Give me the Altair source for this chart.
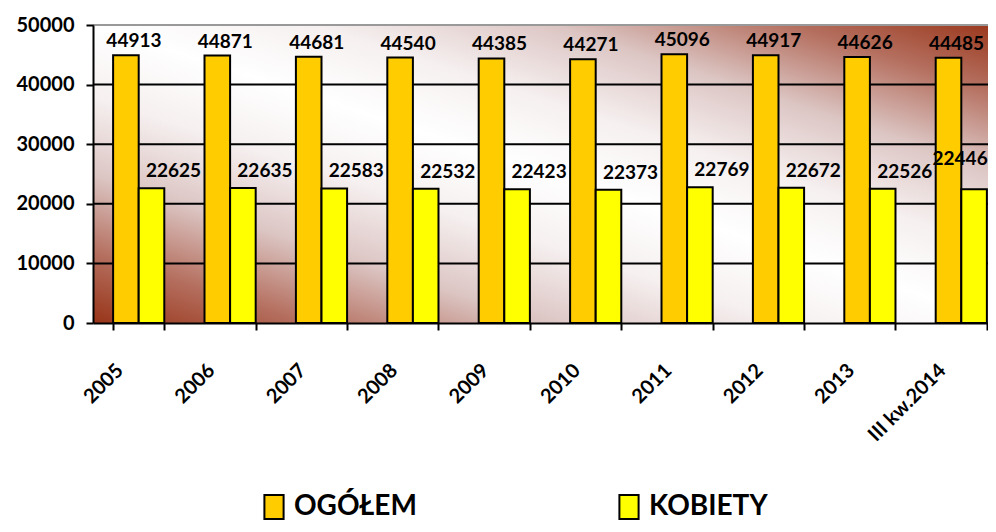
import altair as alt
import pandas as pd

categories = ["2005", "2006", "2007", "2008", "2009", "2010", "2011", "2012", "2013", "III kw.2014"]
ogolem = [44913, 44871, 44681, 44540, 44385, 44271, 45096, 44917, 44626, 44485]
kobiety = [22625, 22635, 22583, 22532, 22423, 22373, 22769, 22672, 22526, 22446]
series_names = ["OGÓŁEM", "KOBIETY"]
series_colors = ["#FFCC00", "#FFFF00"]
y_ticks = [0, 10000, 20000, 30000, 40000, 50000]

rows = []
for c, o, k in zip(categories, ogolem, kobiety):
    rows.append({"cat": c, "series": series_names[0], "value": o})
    rows.append({"cat": c, "series": series_names[1], "value": k})
df = pd.DataFrame(rows)
grid_df = pd.DataFrame({"value": y_ticks[1:]})

W, H = 895, 298
FULL_W = 914
FONT = "Lato"
LAST = categories[-1]

xscale = alt.Scale(domain=categories, range=[0, FULL_W], paddingInner=0.44, paddingOuter=0.22)
yscale = alt.Scale(domain=[0, 50000], nice=False)

x_enc = alt.X(
    "cat:N", scale=xscale, sort=categories,
    axis=alt.Axis(title=None, labelAngle=-45, labelAlign="right", labelBaseline="middle",
                  labelFont=FONT, labelFontSize=20, labelFontWeight="bold", labelColor="black",
                  domainColor="black", domainWidth=2, tickColor="black", tickWidth=2,
                  tickSize=7, tickBand="extent", labelPadding=37, labelOffset=-19,
                  grid=False, zindex=1),
)
y_enc = alt.Y(
    "value:Q", scale=yscale,
    axis=alt.Axis(values=y_ticks, format="d", title=None, labelFont=FONT, labelFontSize=20,
                  labelFontWeight="bold", labelColor="black", domainColor="black",
                  domainWidth=2, tickColor="black", tickWidth=2, tickSize=7,
                  labelPadding=12, grid=False, zindex=1),
)
xoff = alt.XOffset("series:N", sort=series_names, scale=alt.Scale(domain=series_names, paddingInner=0))

dark = "#983418"
gradient = {
    "gradient": "linear", "x1": 0, "y1": 1, "x2": 1, "y2": 0,
    "stops": [
        {"offset": 0.0, "color": dark},
        {"offset": 0.12, "color": "#b57060"},
        {"offset": 0.25, "color": "#dcc6c4"},
        {"offset": 0.38, "color": "#f6f0f0"},
        {"offset": 0.5, "color": "#ffffff"},
        {"offset": 0.62, "color": "#f6f0f0"},
        {"offset": 0.75, "color": "#dcc6c4"},
        {"offset": 0.88, "color": "#b57060"},
        {"offset": 1.0, "color": dark},
    ],
}

bg = alt.Chart(pd.DataFrame({"a": [0]})).mark_rect(color=gradient).encode(
    x=alt.value(0), x2=alt.value(FULL_W), y=alt.value(0), y2=alt.value(H)
)

grid = alt.Chart(grid_df).mark_rule(strokeWidth=2).encode(
    y=y_enc,
    x=alt.value(0), x2=alt.value(FULL_W),
    color=alt.condition(alt.datum.value == 50000, alt.value("#999999"), alt.value("black")),
)

bars = alt.Chart(df).mark_bar(stroke="black", strokeWidth=2).encode(
    x=x_enc, xOffset=xoff, y=y_enc,
    color=alt.Color(
        "series:N", sort=series_names,
        scale=alt.Scale(domain=series_names, range=series_colors),
        legend=alt.Legend(orient="none", legendX=167, legendY=468, direction="horizontal",
                          title=None, symbolType="M-0.8,-1H0.8V1H-0.8Z", symbolSize=576,
                          symbolStrokeColor="black", symbolStrokeWidth=2, symbolOpacity=1,
                          labelFont=FONT, labelFontSize=28, labelFontWeight="bold",
                          labelColor="black", columnPadding=198, labelOffset=6, labelLimit=400),
    ),
)

def labels(flt, dx, dy):
    return alt.Chart(df).transform_filter(flt).mark_text(
        font=FONT, fontSize=19, fontWeight="bold", color="black", dx=dx, dy=dy, baseline="middle"
    ).encode(x=x_enc, xOffset=xoff, y=y_enc, text=alt.Text("value:Q", format="d"))

lab_o = labels(alt.datum.series == series_names[0], 8, -14)
lab_k = labels((alt.datum.series == series_names[1]) & (alt.datum.cat != LAST), 22, -17)
lab_k_last = labels((alt.datum.series == series_names[1]) & (alt.datum.cat == LAST), -14, -30)

chart = alt.layer(
    bg, grid, bars, lab_o, lab_k, lab_k_last
).properties(
    width=W, height=H,
    autosize=alt.AutoSizeParams(type="none"),
    padding={"left": 85, "top": 17, "right": 0, "bottom": 201},
).configure_view(stroke=None).configure(background="white")

chart.save("out.html", embed_options={"renderer": "svg", "actions": False})
